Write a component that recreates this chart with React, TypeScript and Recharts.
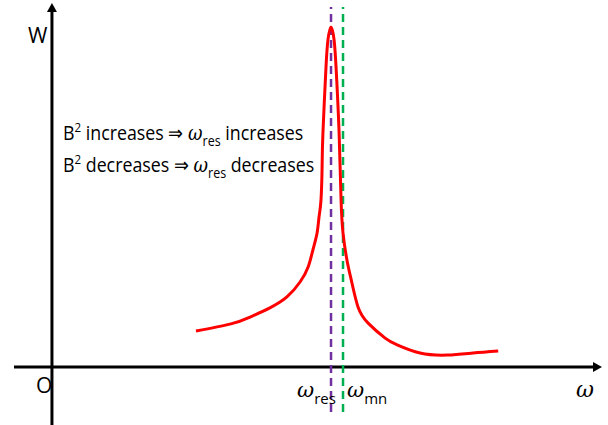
import React from "react"
import { LineChart, Line, XAxis, YAxis, ReferenceLine, ReferenceDot } from "recharts"

// frequency (omega / omega_res) and absorbed power W
const omegaValues = [0.516, 0.638, 0.71, 0.781, 0.842, 0.889, 0.918, 0.935, 0.95, 0.957, 0.964, 0.968, 0.971, 0.982, 0.989, 1.0, 1.011, 1.018, 1.029, 1.036, 1.043, 1.057, 1.075, 1.097, 1.133, 1.194, 1.237, 1.319, 1.416, 1.509, 1.599]
const wValues = [1.06, 1.26, 1.47, 1.74, 2.06, 2.5, 2.94, 3.44, 3.94, 4.41, 4.91, 5.88, 6.88, 8.82, 9.62, 10.0, 9.62, 8.82, 6.88, 4.91, 3.94, 3.15, 2.47, 1.76, 1.29, 0.85, 0.65, 0.41, 0.35, 0.41, 0.47]

const omegaRes = 1.0
const omegaMn = 1.043

const xDomain: [number, number] = [-0.136, 1.971]
const yDomain: [number, number] = [-1.706, 10.706]

const data = omegaValues.map((w, i) => ({ omega: w, W: wValues[i] }))

const textFont = "'Open Sans', 'Noto Sans', sans-serif"
const mathFont = "'DejaVu Serif', 'Liberation Serif', serif"

const RightArrow = (props: any) => {
  const { cx, cy } = props
  return <polygon points={`${cx},${cy} ${cx - 9},${cy - 5} ${cx - 9},${cy + 5}`} fill="#000" />
}

const UpArrow = (props: any) => {
  const { cx, cy } = props
  return <polygon points={`${cx},${cy} ${cx - 5},${cy + 9} ${cx + 5},${cy + 9}`} fill="#000" />
}

const Omega = ({ x, y, sub }: { x: number; y: number; sub: string }) => (
  <text x={x} y={y} fontSize={21}>
    <tspan fontFamily={mathFont} fontStyle="italic">ω</tspan>
    <tspan fontFamily={textFont} fontSize={15} dy={7}>{sub}</tspan>
  </text>
)

// Calibri-like narrow text: squeeze a wider font horizontally
const Statement = ({ y, verb }: { y: number; verb: string }) => (
  <g transform={`translate(63,${y}) scale(0.89,1)`}>
    <text x={0} y={0} fontSize={20} fontFamily={textFont}>
      B<tspan fontSize={13} dy={-8}>2</tspan>
      <tspan dy={8}> {verb} ⇒ </tspan>
      <tspan fontFamily={mathFont} fontStyle="italic">ω</tspan>
      <tspan fontSize={14} dy={6}>res</tspan>
      <tspan dy={-6}> {verb}</tspan>
    </text>
  </g>
)

export default function App() {
  return (
    <div style={{ position: "absolute", left: 0, top: 0, width: 608, height: 425, background: "#fff" }}>
      <LineChart width={608} height={425} data={data} margin={{ top: 3, right: 6, bottom: 0, left: 14 }}>
        <XAxis dataKey="omega" type="number" domain={xDomain} allowDataOverflow hide />
        <YAxis type="number" domain={yDomain} allowDataOverflow hide />
        {/* axes */}
        <ReferenceLine segment={[{ x: xDomain[0], y: 0 }, { x: 1.95, y: 0 }]} stroke="#000" strokeWidth={3} ifOverflow="visible" />
        <ReferenceLine segment={[{ x: 0, y: yDomain[0] }, { x: 0, y: 10.5 }]} stroke="#000" strokeWidth={3} ifOverflow="visible" />
        <ReferenceDot x={xDomain[1]} y={0} shape={RightArrow} ifOverflow="visible" />
        <ReferenceDot x={0} y={yDomain[1]} shape={UpArrow} ifOverflow="visible" />
        {/* resonance and mode frequencies */}
        <ReferenceLine segment={[{ x: omegaRes, y: -1.32 }, { x: omegaRes, y: 10.59 }]} stroke="#7030A0" strokeWidth={2.5} strokeDasharray="8 5" ifOverflow="visible" />
        <ReferenceLine segment={[{ x: omegaMn, y: -1.32 }, { x: omegaMn, y: 10.59 }]} stroke="#00B050" strokeWidth={2.5} strokeDasharray="8 5" ifOverflow="visible" />
        <Line dataKey="W" type="natural" stroke="#FF0000" strokeWidth={3} dot={false} isAnimationActive={false} />
      </LineChart>
      <svg width={608} height={425} style={{ position: "absolute", left: 0, top: 0, pointerEvents: "none" }}>
        <text x={28} y={43} fontSize={21} fontFamily={textFont}>W</text>
        <text x={36} y={393} fontSize={21} fontFamily={textFont}>O</text>
        <text x={576} y={397} fontSize={22} fontFamily={mathFont} fontStyle="italic">ω</text>
        <Omega x={297} y={397} sub="res" />
        <Omega x={347} y={397} sub="mn" />
        <Statement y={140} verb="increases" />
        <Statement y={172} verb="decreases" />
      </svg>
    </div>
  )
}
